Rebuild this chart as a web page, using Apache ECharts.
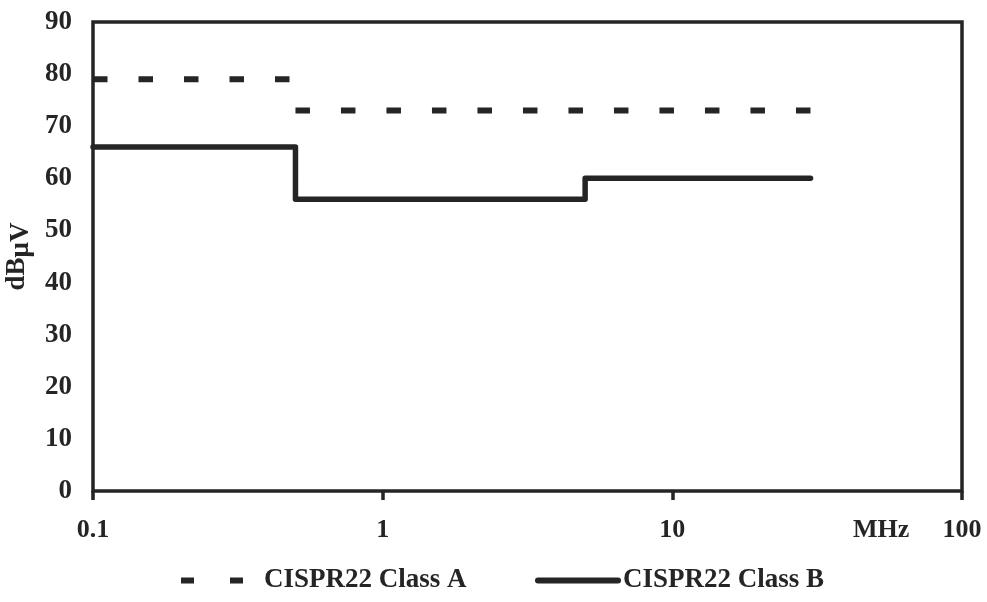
<!DOCTYPE html>
<html>
<head>
<meta charset="utf-8">
<script src="https://cdn.jsdelivr.net/npm/echarts@6/dist/echarts.min.js"></script>
<style>
  html, body { margin: 0; padding: 0; background: #fff; }
  #chart { width: 987px; height: 602px; }
</style>
</head>
<body>
<div id="chart"></div>
<script>
// Conducted-emission limit bands: edges in MHz, quasi-peak limits in dBμV per band
const bandEdges = [0.1, 0.5, 5, 30];
const classALimits = [79, 73, 73];
const classBLimits = [66, 56, 60];
const xTickLabels = ['0.1', '1', '10', '100'];
const seriesNames = ['CISPR22 Class A', 'CISPR22 Class B'];

const FONT = '"Liberation Serif", "Times New Roman", serif';
const INK = '#252525';

// Turn per-band limits into step points; optionally leave a gap at level changes
function stepData(limits, joinSteps) {
  const pts = [];
  limits.forEach((lv, i) => {
    const changed = i === 0 || lv !== limits[i - 1];
    if (i > 0 && changed && !joinSteps) pts.push([bandEdges[i], '-']);
    if (changed) pts.push([bandEdges[i], lv]);
    pts.push([bandEdges[i + 1], lv]);
  });
  return pts;
}

const chart = echarts.init(document.getElementById('chart'), null, { renderer: 'canvas' });

const textBase = { fontFamily: FONT, fontWeight: 'bold', fontSize: 27, color: INK };

// legend entries: line only, no marker dot
const legendCommon = {
  top: 567,
  padding: 0,
  itemHeight: 14,
  itemStyle: { color: 'rgba(0,0,0,0)', borderWidth: 0 },
  textStyle: { ...textBase },
  selectedMode: false
};

chart.setOption({
  backgroundColor: '#fff',
  animation: false,
  grid: {
    left: 93, right: 25, top: 22, bottom: 111,
    containLabel: false,
    outerBoundsMode: 'none',
    show: true, borderColor: INK, borderWidth: 3.5, backgroundColor: 'transparent'
  },
  xAxis: {
    type: 'log',
    logBase: 10,
    min: 0.1,
    max: 100,
    axisLine: { show: false },
    axisTick: { show: true, inside: false, length: 9, lineStyle: { color: INK, width: 3.5 } },
    minorTick: { show: false },
    splitLine: { show: false },
    axisLabel: {
      ...textBase,
      fontSize: 26,
      margin: 26,
      formatter: v => xTickLabels[Math.round(Math.log10(v)) + 1]
    }
  },
  yAxis: {
    type: 'value',
    min: 0,
    max: 90,
    interval: 10,
    axisLine: { show: false },
    axisTick: { show: false },
    splitLine: { show: false },
    axisLabel: { ...textBase, margin: 21 },
    name: '{a|dB}{b|μV}',
    nameLocation: 'middle',
    nameRotate: 90,
    nameGap: 53,
    nameTextStyle: {
      ...textBase,
      rich: {
        a: { ...textBase },
        b: { ...textBase, padding: [7, 0, 0, 0] }
      }
    }
  },
  legend: [
    {
      ...legendCommon,
      data: [seriesNames[0]],
      left: 178,
      itemWidth: 78,
      lineStyle: { width: 6, type: [13, 36], cap: 'butt' }
    },
    {
      ...legendCommon,
      data: [seriesNames[1]],
      left: 535,
      itemWidth: 80,
      lineStyle: { width: 6, type: 'solid', cap: 'round' }
    }
  ],
  graphic: [
    {
      type: 'text',
      left: 853,
      top: 517,
      style: { text: 'MHz', font: 'bold 26px ' + FONT, fill: INK }
    }
  ],
  series: [
    {
      name: seriesNames[0],
      type: 'line',
      data: stepData(classALimits, false),
      symbol: 'none',
      connectNulls: false,
      lineStyle: { color: INK, width: 6, type: [14.5, 31], cap: 'butt' },
      itemStyle: { color: INK }
    },
    {
      name: seriesNames[1],
      type: 'line',
      data: stepData(classBLimits, true),
      symbol: 'none',
      lineStyle: { color: INK, width: 5.5, cap: 'round', join: 'round' },
      itemStyle: { color: INK }
    }
  ]
});
</script>
</body>
</html>
